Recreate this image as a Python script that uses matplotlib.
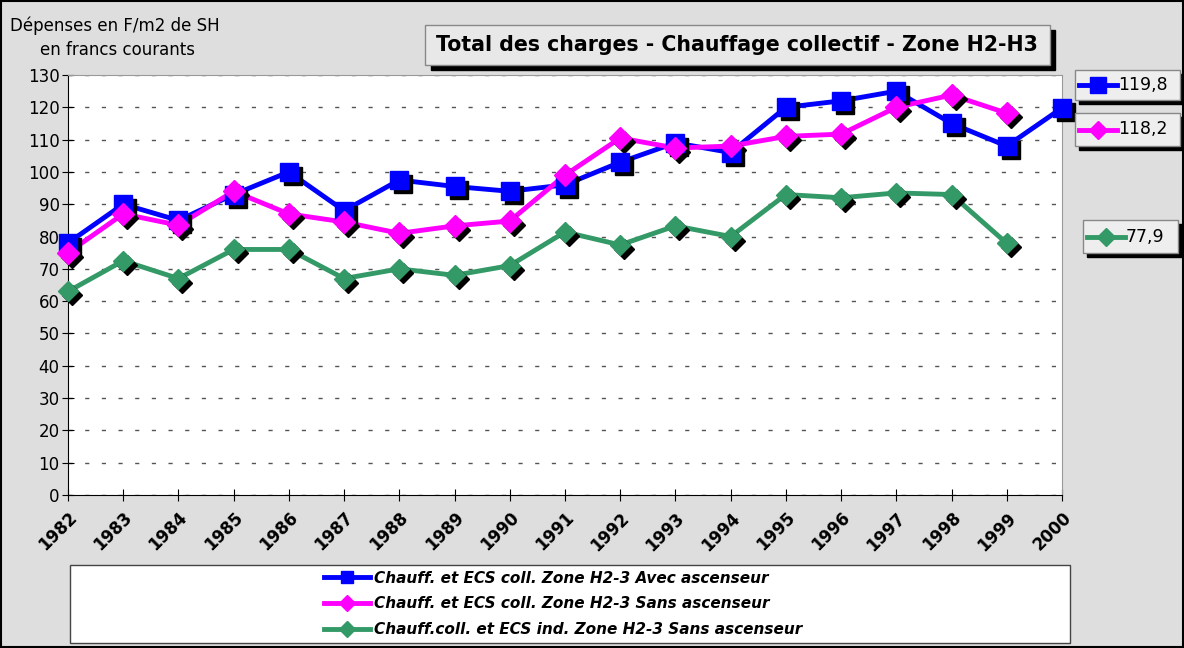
import matplotlib
matplotlib.use("Agg")
import matplotlib.pyplot as plt
from matplotlib.patches import Rectangle
from matplotlib.lines import Line2D
from matplotlib.transforms import ScaledTranslation

years = list(range(1982, 2001))
avec = [78, 90, 85, 93, 100, 88, 97.5, 95.5, 94, 96, 103, 109, 106, 120, 122, 125, 115, 108, 119.8]
sans = [75, 87, 83.5, 94, 87, 84.5, 81, 83.3, 84.8, 99, 110.5, 107.4, 108, 111, 111.7, 120, 123.8, 118.2]
ind = [63, 72.5, 67, 76, 76, 67, 70, 68, 71, 81.4, 77.4, 83.3, 80, 93, 92, 93.5, 93, 77.9]
labels = ["Chauff. et ECS coll. Zone H2-3 Avec ascenseur",
          "Chauff. et ECS coll. Zone H2-3 Sans ascenseur",
          "Chauff.coll. et ECS ind. Zone H2-3 Sans ascenseur"]
colors = ["#0000ff", "#ff00ff", "#339966"]
markers = ["s", "D", "D"]
msizes = [13, 11, 10]

W, H = 1184, 648
fig = plt.figure(figsize=(W / 100, H / 100), dpi=100, facecolor="#dedede")

def fx(px):
    return px / W

def fy(py):
    return 1 - py / H

# outer border
fig.patches.append(Rectangle((0.001, 0.001), 0.998, 0.998, transform=fig.transFigure,
                             fill=False, edgecolor="black", lw=1.5, zorder=0))

ax = fig.add_axes([fx(68), fy(495), fx(1062) - fx(68), fy(75) - fy(495)])
ax.set_facecolor("white")

series = [avec, sans, ind]
shadow = ax.transData + ScaledTranslation(4 / 100, -4 / 100, fig.dpi_scale_trans)
for vals, c, m, ms in zip(series, colors, markers, msizes):
    x = years[:len(vals)]
    ax.plot(x, vals, color=c, lw=3.5, zorder=3, clip_on=False)
    ax.plot(x, vals, ls="none", marker=m, ms=ms, color="black", zorder=4,
            transform=shadow, clip_on=False)
    ax.plot(x, vals, ls="none", marker=m, ms=ms, color=c, zorder=5, clip_on=False)

ax.set_xlim(1982, 2000)
ax.set_ylim(0, 130)
ax.set_yticks(range(0, 131, 10))
ax.set_xticks(years)
ax.set_xticklabels([str(y) for y in years], rotation=45, ha="right", va="top",
                   rotation_mode="anchor", fontweight="bold", fontsize=12)
ax.tick_params(axis="x", direction="inout", length=8, pad=6)
ax.tick_params(axis="y", direction="inout", length=8, labelsize=12, pad=2)
ax.yaxis.grid(True, linestyle=(0, (3, 9)), color="#555555", lw=1)
ax.set_axisbelow(True)
for s in ["top", "right"]:
    ax.spines[s].set_color("#999999")
for s in ["left", "bottom"]:
    ax.spines[s].set_color("black")

# y axis caption
fig.text(fx(10), fy(26), "Dépenses en F/m2 de SH", fontsize=12, va="center")
fig.text(fx(40), fy(50), "en francs courants", fontsize=12, va="center")

# title box with shadow
fig.patches.append(Rectangle((fx(431), fy(70)), fx(1055) - fx(431), fy(30) - fy(70),
                             transform=fig.transFigure, color="black", zorder=1))
fig.patches.append(Rectangle((fx(425), fy(65)), fx(1050) - fx(425), fy(25) - fy(65),
                             transform=fig.transFigure, facecolor="#e8e8e8",
                             edgecolor="#888888", lw=1, zorder=2))
fig.text(fx(737), fy(45), "Total des charges - Chauffage collectif - Zone H2-H3",
         fontsize=14.8, fontweight="bold", ha="center", va="center", zorder=3)

# value boxes on the right
boxes = [(1075, 70, 1180, 100), (1075, 113, 1180, 146), (1083, 220, 1178, 253)]
for (x0, y0, x1, y1), vals, c, m in zip(boxes, series, colors, markers):
    fig.patches.append(Rectangle((fx(x0 + 4), fy(y1 + 4)), fx(x1) - fx(x0), fy(y0) - fy(y1),
                                 transform=fig.transFigure, color="black", zorder=1))
    fig.patches.append(Rectangle((fx(x0), fy(y1)), fx(x1) - fx(x0), fy(y0) - fy(y1),
                                 transform=fig.transFigure, facecolor="#eeeeee",
                                 edgecolor="#888888", lw=1, zorder=2))
    ym = fy((y0 + y1) / 2)
    fig.lines.append(Line2D([fx(x0 + 4), fx(x0 + 42)], [ym, ym], transform=fig.transFigure,
                            color=c, lw=3.5, zorder=3))
    fig.lines.append(Line2D([fx(x0 + 23)], [ym], transform=fig.transFigure, color=c,
                            marker=m, ms=11 if m == "s" else 9, ls="none", zorder=4))
    fig.text(fx(x0 + 43), ym, f"{vals[-1]:.1f}".replace(".", ","), fontsize=12.5,
             va="center", ha="left", zorder=4)

# legend box
fig.patches.append(Rectangle((fx(70), fy(643)), fx(1070) - fx(70), fy(565) - fy(643),
                             transform=fig.transFigure, facecolor="white",
                             edgecolor="#444444", lw=1, zorder=1))
handles = [Line2D([], [], color=c, lw=3.5, marker=m, ms=9 if m == "s" else 8)
           for c, m in zip(colors, markers)]
leg = fig.legend(handles, labels, loc="center left", bbox_to_anchor=(fx(310), fy(604)),
                 frameon=False, handlelength=3, handletextpad=0.3, labelspacing=0.7,
                 prop={"weight": "bold", "style": "italic", "size": 11})
leg.set_zorder(5)

fig.savefig("out.png", dpi=100, facecolor=fig.get_facecolor())
